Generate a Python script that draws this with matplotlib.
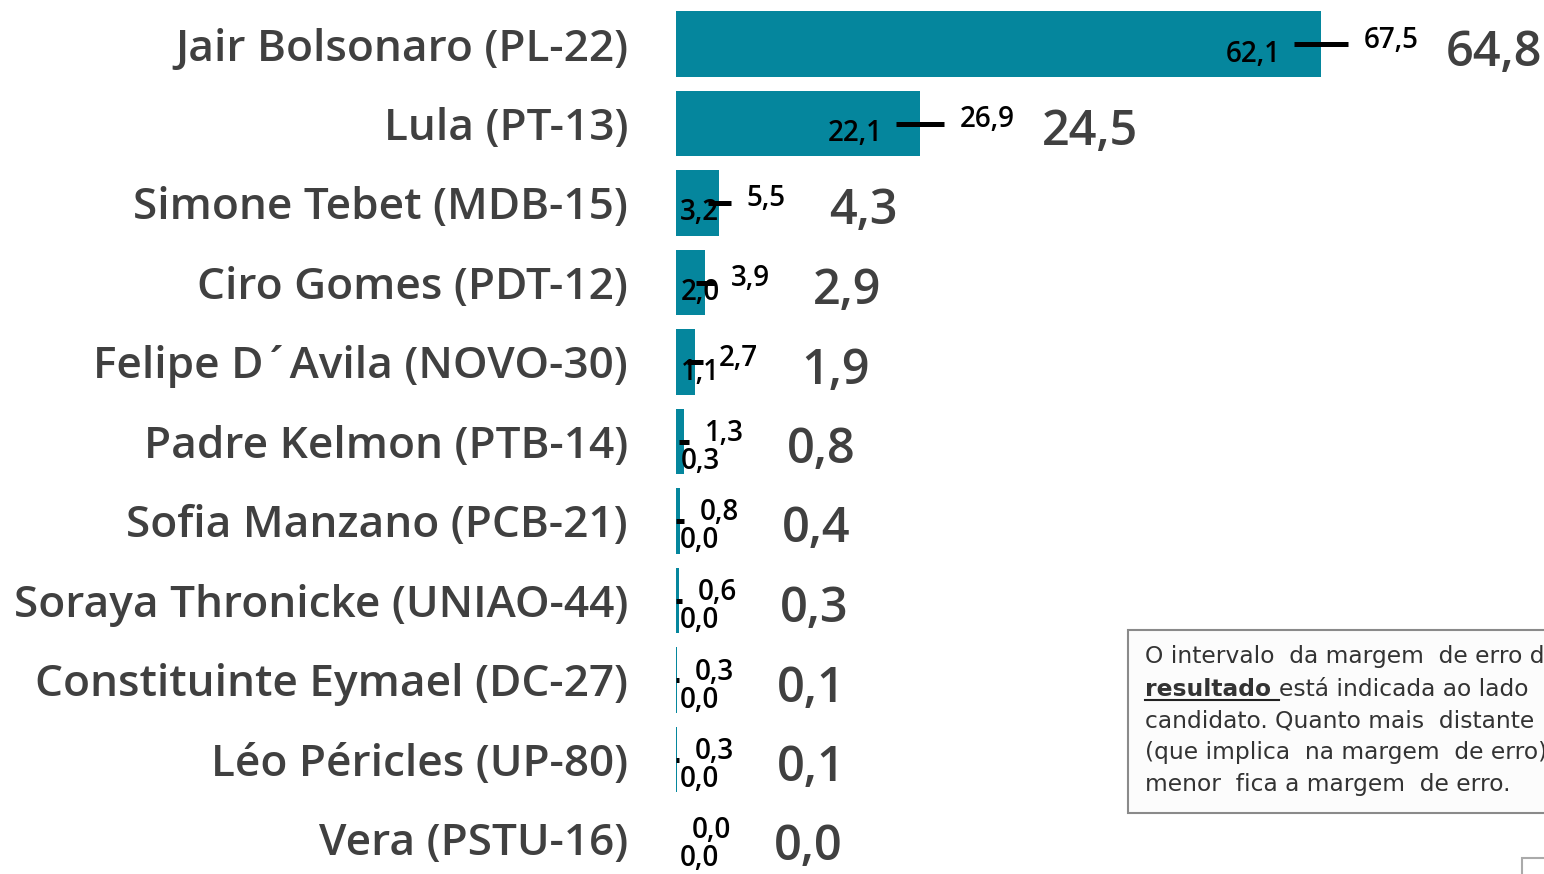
import matplotlib.pyplot as plt
from matplotlib.patches import Rectangle
from matplotlib.lines import Line2D

# dados da pesquisa
candidatos = ["Jair Bolsonaro (PL-22)", "Lula (PT-13)", "Simone Tebet (MDB-15)",
              "Ciro Gomes (PDT-12)", "Felipe D´Avila (NOVO-30)", "Padre Kelmon (PTB-14)",
              "Sofia Manzano (PCB-21)", "Soraya Thronicke (UNIAO-44)",
              "Constituinte Eymael (DC-27)", "Léo Péricles (UP-80)", "Vera (PSTU-16)"]
media = [64.8, 24.5, 4.3, 2.9, 1.9, 0.8, 0.4, 0.3, 0.1, 0.1, 0.0]
minimo = [62.1, 22.1, 3.2, 2.0, 1.1, 0.3, 0.0, 0.0, 0.0, 0.0, 0.0]
maximo = [67.5, 26.9, 5.5, 3.9, 2.7, 1.3, 0.8, 0.6, 0.3, 0.3, 0.0]

def fmt(v):
    return f"{v:.1f}".replace(".", ",")

W, H = 1544, 874
fig = plt.figure(figsize=(W / 100, H / 100), dpi=100)
# eixo: zero em x=676 px, ~9.95 px por ponto
x0 = 676
xmax = (W - x0) / 9.95
ax = fig.add_axes([x0 / W, (H - 878.75) / H, (W - x0) / W, (878.75 - 4.25) / H])

fonte = "Open Sans"
cor_barra = "#05869d"
cinza = "#404040"

y = list(range(len(candidatos)))
ax.barh(y, media, height=0.83, color=cor_barra, linewidth=0)
ax.hlines(y, minimo, maximo, color="black", lw=3.6, capstyle="butt")

ax.set_xlim(0, xmax)
ax.set_ylim(len(candidatos) - 0.5, -0.5)
ax.set_yticks(y)
ax.set_yticklabels(candidatos, fontsize=31.8, color=cinza, family=fonte, weight="semibold")
ax.tick_params(axis="y", length=0, pad=34.5)
ax.set_xticks([])
for s in ax.spines.values():
    s.set_visible(False)

px = 72 / 100  # pixels -> pontos
for i in y:
    lo, hi, m = minimo[i], maximo[i], media[i]
    grande = m > 1
    # rotulo do limite inferior
    xc = max(lo - 4.1, 2.4)
    ax.annotate(fmt(lo), (xc, i), xytext=(0, -(10 if grande else 20) * px),
                textcoords="offset points", ha="center", va="center",
                fontsize=20, family=fonte, color="black", weight="semibold")
    # rotulo do limite superior
    ax.annotate(fmt(hi), (hi, i), xytext=(16 * px, -(-4 if grande else -8) * px),
                textcoords="offset points", ha="left", va="center",
                fontsize=20, family=fonte, color="black", weight="semibold")
    # valor medio
    ax.annotate(fmt(m), (hi, i), xytext=(98 * px, -9 * px),
                textcoords="offset points", ha="left", va="center",
                fontsize=35, family=fonte, color=cinza, weight="semibold")

# caixa de texto explicativa
fig.patches.append(Rectangle((1128 / W, (H - 813) / H), 0.5, 183 / H,
                             transform=fig.transFigure, facecolor="#fcfcfc",
                             edgecolor="#8a8a8a", lw=1.5))
fig.patches.append(Rectangle((1522 / W, -0.05), 0.5, (H - 858) / H + 0.05,
                             transform=fig.transFigure, facecolor="white",
                             edgecolor="#aaaaaa", lw=1.5))

linhas = ["O intervalo  da margem  de erro do",
          None,
          "candidato. Quanto mais  distante",
          "(que implica  na margem  de erro)",
          "menor  fica a margem  de erro."]
tx = 1145 / W
caixa = dict(fontsize=16.8, family="DejaVu Sans", color="#333333", va="center", ha="left")
for k, txt in enumerate(linhas):
    yy = (H - (657 + 32 * k)) / H
    if txt is not None:
        fig.text(tx, yy, txt, **caixa)
yy = (H - 689) / H
t = fig.text(tx, yy, "resultado ", weight="bold", **caixa)
fig.canvas.draw()
bb = t.get_window_extent()
fig.text(bb.x1 / W, yy, "está indicada ao lado", **caixa)
fig.lines.append(Line2D([bb.x0 / W, bb.x1 / W], [(H - 700) / H] * 2,
                       transform=fig.transFigure, color="#222222", lw=1.5))

fig.savefig("out.png", dpi=100)
